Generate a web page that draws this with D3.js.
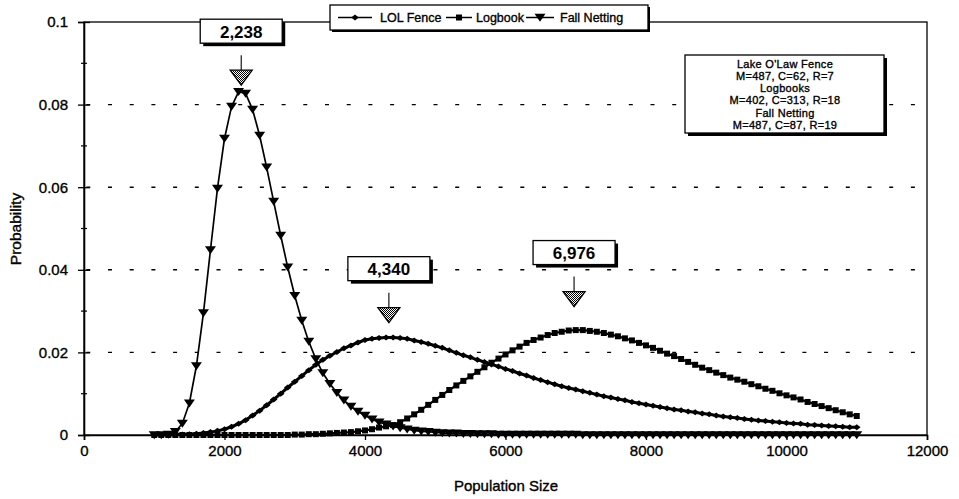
<!DOCTYPE html>
<html><head><meta charset="utf-8">
<script src="https://cdn.jsdelivr.net/npm/d3@7"></script>
<style>
body{margin:0;background:#fff}
svg{display:block}
text{font-family:"Liberation Sans",Arial,Helvetica,sans-serif;fill:#000}
</style>
</head><body>
<svg id="chart" width="959" height="499"></svg>
<script>
// ---------------- data ----------------
const populationSizes = [1000,1100,1200,1300,1400,1500,1600,1700,1800,1900,
  2000,2100,2200,2300,2400,2500,2600,2700,2800,2900,
  3000,3100,3200,3300,3400,3500,3600,3700,3800,3900,
  4000,4100,4200,4300,4400,4500,4600,4700,4800,4900,
  5000,5100,5200,5300,5400,5500,5600,5700,5800,5900,
  6000,6100,6200,6300,6400,6500,6600,6700,6800,6900,
  7000,7100,7200,7300,7400,7500,7600,7700,7800,7900,
  8000,8100,8200,8300,8400,8500,8600,8700,8800,8900,
  9000,9100,9200,9300,9400,9500,9600,9700,9800,9900,
  10000,10100,10200,10300,10400,10500,10600,10700,10800,10900,11000];

const lolFence = [0,0,0,0.0001,0.0001,0.0002,0.0003,0.0005,0.0007,0.0010,
  0.0014,0.0020,0.0027,0.0036,0.0047,0.0059,0.0072,0.0086,0.0100,0.0115,
  0.0129,0.0143,0.0157,0.0170,0.0182,0.0192,0.0201,0.0210,0.0217,0.0224,
  0.0230,0.0233,0.0235,0.0236,0.0236,0.0235,0.0233,0.0229,0.0225,0.0221,
  0.0216,0.0211,0.0205,0.0199,0.0193,0.0188,0.0182,0.0177,0.0171,0.0166,
  0.0160,0.0155,0.0149,0.0144,0.0138,0.0133,0.0128,0.0123,0.0118,0.0114,
  0.0110,0.0106,0.0102,0.0098,0.0094,0.0091,0.0087,0.0084,0.0080,0.0077,
  0.0074,0.0071,0.0068,0.0065,0.0062,0.0060,0.0057,0.0055,0.0052,0.0050,
  0.0047,0.0045,0.0043,0.0041,0.0039,0.0037,0.0035,0.0034,0.0032,0.0031,
  0.0029,0.0028,0.0027,0.0025,0.0024,0.0023,0.0022,0.0021,0.0020,0.0019,0.0019];

const logbook = [0,0,0,0,0,0,0,0,0,0,
  0,0,0,0,0,0,0,0,0,0,
  0.0001,0.0001,0.0002,0.0002,0.0003,0.0004,0.0005,0.0006,0.0007,0.0009,
  0.0011,0.0014,0.0018,0.0021,0.0024,0.0031,0.0040,0.0050,0.0061,0.0073,
  0.0085,0.0097,0.0109,0.0120,0.0131,0.0142,0.0153,0.0164,0.0175,0.0185,
  0.0195,0.0205,0.0214,0.0223,0.0230,0.0236,0.0242,0.0247,0.0250,0.0253,
  0.0254,0.0254,0.0252,0.0250,0.0247,0.0243,0.0239,0.0234,0.0229,0.0223,
  0.0217,0.0211,0.0204,0.0197,0.0191,0.0184,0.0177,0.0170,0.0163,0.0157,
  0.0151,0.0145,0.0139,0.0134,0.0129,0.0123,0.0118,0.0112,0.0107,0.0101,
  0.0096,0.0091,0.0086,0.0080,0.0075,0.0070,0.0065,0.0060,0.0055,0.0050,0.0046];

const fallNetting = [0,0,0.0001,0.0008,0.0028,0.0077,0.0167,0.0295,0.0448,0.0597,
  0.0718,0.0795,0.0831,0.0827,0.0788,0.0725,0.0648,0.0565,0.0483,0.0406,
  0.0337,0.0277,0.0226,0.0184,0.0150,0.0124,0.0102,0.0084,0.0069,0.0057,
  0.0047,0.0038,0.0031,0.0026,0.0021,0.0017,0.0014,0.0011,0.0009,0.0008,
  0.0006,0.0005,0.0004,0.0004,0.0003,0.0003,0.0002,0.0002,0.0002,0.0001,
  0.0001,0.0001,0.0001,0.0001,0.0001,0.0001,0.0001,0.0001,0.0001,0.0001,
  0.0001,0,0,0,0,0,0,0,0,0,
  0,0,0,0,0,0,0,0,0,0,
  0,0,0,0,0,0,0,0,0,0,
  0,0,0,0,0,0,0,0,0,0,0];

const seriesNames = ["LOL Fence","Logbook","Fall Netting"];
const xTickValues = [0,2000,4000,6000,8000,10000,12000];
const yTickValues = [0,0.02,0.04,0.06,0.08,0.1];
const yTickLabels = ["0","0.02","0.04","0.06","0.08","0.1"];
const yMinorValues = [0.01,0.03,0.05,0.07,0.09];
const gridValues = [0.02,0.04,0.06,0.08];
const peakLabels = ["2,238","4,340","6,976"];
const peakPositions = [2238,4340,6976];
const peakArrowTips = [0.0847,0.0272,0.0311];
const statsLines = ["Lake O'Law Fence","M=487, C=62, R=7","Logbooks","M=402, C=313, R=18","Fall Netting","M=487, C=87, R=19"];

// ---------------- chart ----------------
const svg = d3.select("#chart");
const x = d3.scaleLinear().domain([0,12000]).range([84,927]);
const y = d3.scaleLinear().domain([0,0.1]).range([435,22]);
const heavy = sel => sel.attr("stroke","#000").attr("stroke-width",0.35);

const defs = svg.append("defs");
const pat = defs.append("pattern").attr("id","dither").attr("width",2).attr("height",2)
  .attr("patternUnits","userSpaceOnUse");
pat.append("rect").attr("width",2).attr("height",2).attr("fill","#fff");
pat.append("rect").attr("width",1).attr("height",1).attr("fill","#000");
pat.append("rect").attr("x",1).attr("y",1).attr("width",1).attr("height",1).attr("fill","#000");

// gridlines
svg.append("g").selectAll("line").data(gridValues).join("line")
  .attr("x1",x(0)).attr("x2",x(12000)).attr("y1",d=>y(d)).attr("y2",d=>y(d))
  .attr("stroke","#000").attr("stroke-width",1.4)
  .attr("stroke-dasharray","4 17.7").attr("stroke-dashoffset",19.4);

// frame
svg.append("rect").attr("x",x(0)).attr("y",y(0.1)).attr("width",x(12000)-x(0)).attr("height",y(0)-y(0.1))
  .attr("fill","none").attr("stroke","#000").attr("stroke-width",1.3);

// y axis
const yAxis = d3.axisLeft(y).tickValues(yTickValues).tickFormat((d,i)=>yTickLabels[i]).tickSize(6).tickPadding(10);
const gy = svg.append("g").attr("transform",`translate(${x(0)},0)`).call(yAxis);
gy.select(".domain").attr("stroke","#000").attr("stroke-width",1.6);
gy.selectAll(".tick line").attr("x2",-6).attr("x1",6).attr("stroke-width",1.3);
gy.selectAll(".tick text").attr("font-size",15).attr("x",-16).attr("fill","#000").call(heavy);
svg.append("g").selectAll("line").data(yMinorValues).join("line")
  .attr("x1",x(0)-3).attr("x2",x(0)+3).attr("y1",d=>y(d)).attr("y2",d=>y(d))
  .attr("stroke","#000").attr("stroke-width",1.2);

// x axis
const xAxis = d3.axisBottom(x).tickValues(xTickValues).tickFormat(d3.format("d")).tickSize(5).tickPadding(5);
const gx = svg.append("g").attr("transform",`translate(0,${y(0)})`).call(xAxis);
gx.select(".domain").attr("stroke","#000").attr("stroke-width",1.6);
gx.selectAll(".tick line").attr("stroke-width",1.3);
gx.selectAll(".tick text").attr("font-size",15).attr("fill","#000").call(heavy);

// axis titles
svg.append("text").attr("x",506).attr("y",491).attr("text-anchor","middle").attr("font-size",15).text("Population Size").call(heavy);
svg.append("text").attr("transform","translate(21,229) rotate(-90)").attr("text-anchor","middle").attr("font-size",15.5).text("Probability").call(heavy);

// series
const lineGen = vals => d3.line().x((d,i)=>x(populationSizes[i])).y(d=>y(d))(vals);
const diamond = "M0,-3L3.8,0L0,3L-3.8,0Z";
const square = "M-3,-3H3V3H-3Z";
const triDown = "M-5.5,-3.8L5.5,-3.8L0,4.2Z";
const series = [
  {name:seriesNames[0], vals:lolFence, marker:diamond, width:3},
  {name:seriesNames[1], vals:logbook, marker:square, width:2.2},
  {name:seriesNames[2], vals:fallNetting, marker:triDown, width:1.7}
];
series.forEach(s=>{
  const g = svg.append("g");
  g.append("path").attr("d",lineGen(s.vals)).attr("fill","none").attr("stroke","#000").attr("stroke-width",s.width);
  g.selectAll("path.m").data(s.vals).join("path").attr("class","m")
    .attr("d",s.marker).attr("fill","#000")
    .attr("transform",(d,i)=>`translate(${x(populationSizes[i])},${y(d)})`);
});

// peak annotations
peakLabels.forEach((lab,i)=>{
  const cx = x(peakPositions[i]);
  const tip = y(peakArrowTips[i]);
  const g = svg.append("g");
  g.append("rect").attr("x",cx-41+3).attr("y",tip-66+3).attr("width",82).attr("height",24).attr("fill","#000");
  g.append("rect").attr("x",cx-41).attr("y",tip-66).attr("width",82).attr("height",24)
    .attr("fill","#fff").attr("stroke","#000").attr("stroke-width",1.3);
  g.append("text").attr("x",cx).attr("y",tip-47.5).attr("text-anchor","middle")
    .attr("font-size",17).attr("font-weight","bold").text(lab);
  g.append("line").attr("x1",cx).attr("x2",cx).attr("y1",tip-30).attr("y2",tip-15).attr("stroke","#000").attr("stroke-width",1.1);
  g.append("path").attr("d",`M${cx-11},${tip-15}L${cx+11},${tip-15}L${cx},${tip}Z`)
    .attr("fill","url(#dither)").attr("stroke","#000").attr("stroke-width",1.3);
});

// stats box
const sb = svg.append("g");
sb.append("rect").attr("x",688).attr("y",58).attr("width",199).attr("height",78).attr("fill","#000");
sb.append("rect").attr("x",685).attr("y",55).attr("width",199).attr("height",78).attr("fill","#fff").attr("stroke","#000").attr("stroke-width",1.3);
sb.selectAll("text").data(statsLines).join("text")
  .attr("x",785).attr("y",(d,i)=>67.5+i*12.3).attr("text-anchor","middle").attr("font-size",11)
  .attr("letter-spacing",0.3).text(d=>d).call(heavy);

// legend
const lg = svg.append("g");
lg.append("rect").attr("x",332).attr("y",7).attr("width",318).attr("height",25).attr("fill","#000");
lg.append("rect").attr("x",330).attr("y",5).attr("width",318).attr("height",25).attr("fill","#fff").attr("stroke","#000").attr("stroke-width",1.3);
const legendItems = [
  {sx:338, w:34, tx:380, marker:diamond},
  {sx:446, w:26, tx:476, marker:square},
  {sx:526, w:28, tx:560, marker:triDown}
];
legendItems.forEach((it,i)=>{
  lg.append("line").attr("x1",it.sx).attr("x2",it.sx+it.w).attr("y1",17.5).attr("y2",17.5).attr("stroke","#000").attr("stroke-width",1.5);
  lg.append("path").attr("d",it.marker).attr("transform",`translate(${it.sx+it.w/2},17.5)`).attr("fill","#000");
  lg.append("text").attr("x",it.tx).attr("y",22).attr("font-size",12.5).text(seriesNames[i]).call(heavy);
});
</script>
</body></html>
